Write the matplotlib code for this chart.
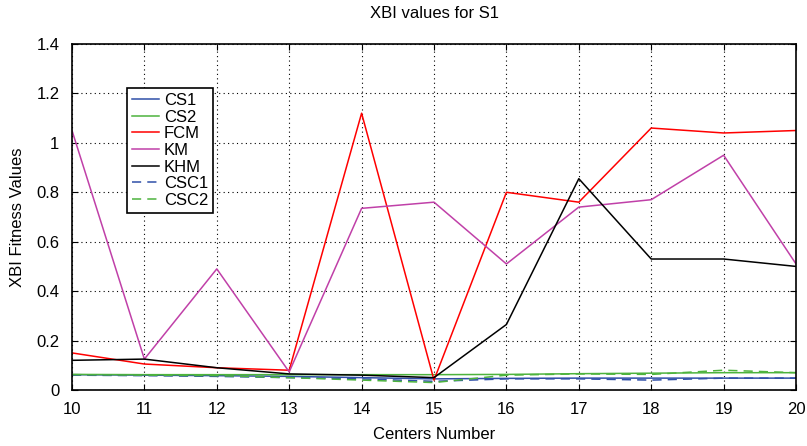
import numpy as np
import matplotlib.pyplot as plt

plt.rcParams['font.family'] = ['Liberation Sans', 'DejaVu Sans']

# numero de centros
centros = [10, 11, 12, 13, 14, 15, 16, 17, 18, 19, 20]

# valores XBI por algoritmo
cs1 = [0.062, 0.060, 0.058, 0.055, 0.050, 0.045, 0.047, 0.048, 0.048, 0.048, 0.048]
cs2 = [0.063, 0.062, 0.062, 0.062, 0.062, 0.062, 0.063, 0.066, 0.068, 0.070, 0.070]
fcm = [0.150, 0.105, 0.090, 0.080, 1.120, 0.040, 0.800, 0.760, 1.060, 1.040, 1.050]
km = [1.050, 0.125, 0.490, 0.073, 0.735, 0.760, 0.510, 0.740, 0.770, 0.950, 0.510]
khm = [0.120, 0.125, 0.090, 0.065, 0.060, 0.050, 0.265, 0.855, 0.530, 0.530, 0.500]
csc1 = [0.060, 0.058, 0.055, 0.050, 0.045, 0.035, 0.045, 0.045, 0.040, 0.048, 0.048]
csc2 = [0.062, 0.060, 0.058, 0.050, 0.040, 0.030, 0.060, 0.065, 0.063, 0.080, 0.070]

fig = plt.figure(figsize=(8.07, 4.46), dpi=100)
ax = fig.add_axes([0.0892, 0.1256, 0.8972, 0.7757])

azul = '#2f4fa8'
verde = '#4db33d'
ax.plot(centros, cs1, color=azul, lw=1.1, label='CS1')
ax.plot(centros, cs2, color=verde, lw=1.1, label='CS2')
ax.plot(centros, fcm, color='#ff0000', lw=1.1, label='FCM')
ax.plot(centros, km, color='#c040a8', lw=1.1, label='KM')
ax.plot(centros, khm, color='black', lw=1.1, label='KHM')
ax.plot(centros, csc1, color=azul, lw=1.1, ls=(0, (6, 4)), label='CSC1')
ax.plot(centros, csc2, color=verde, lw=1.1, ls=(0, (6, 4)), label='CSC2')

ax.set_xlim(10, 20)
ax.set_ylim(0, 1.4)
ax.set_xticks(np.arange(10, 21, 1))
ax.set_yticks([0, 0.2, 0.4, 0.6, 0.8, 1, 1.2, 1.4])
ax.set_yticklabels(['0', '0.2', '0.4', '0.6', '0.8', '1', '1.2', '1.4'])
ax.tick_params(direction='in', top=True, right=True, labelsize=12, length=4)
ax.tick_params(axis='x', pad=9)
ax.tick_params(axis='y', pad=9)
ax.grid(True, color='black', ls=(0, (1, 3)), lw=0.8)
for s in ax.spines.values():
    s.set_linewidth(1.2)

ax.set_title('XBI values for S1', fontsize=12, pad=19)
ax.set_xlabel('Centers Number', fontsize=12, labelpad=7)
ax.set_ylabel('XBI Fitness Values', fontsize=12, labelpad=8)

leg = ax.legend(loc='upper left', bbox_to_anchor=(0.076, 0.873), fontsize=12,
                handlelength=1.6, handletextpad=0.3, labelspacing=0.1,
                borderpad=0.3, borderaxespad=0, fancybox=False, framealpha=1)
leg.get_frame().set_edgecolor('black')
leg.get_frame().set_linewidth(1.2)

plt.savefig('out.png')
